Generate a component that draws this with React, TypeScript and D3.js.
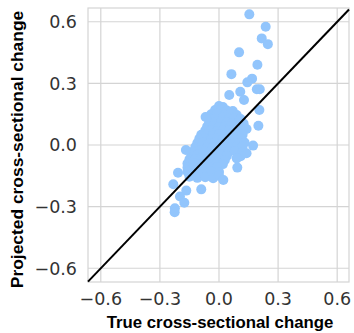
import * as d3 from "d3";

const tickValues = [-0.6, -0.3, 0.0, 0.3, 0.6];
const xTitle = "True cross-sectional change";
const yTitle = "Projected cross-sectional change";

// scattered points away from the core blob: [true, projected]
const outerPoints: [number, number][] = [
  [0.154, 0.636], [0.237, 0.576], [0.217, 0.519], [0.248, 0.491],
  [0.102, 0.451], [0.195, 0.391], [0.063, 0.345], [0.168, 0.323],
  [0.144, 0.305], [0.192, 0.271], [0.207, 0.271], [0.108, 0.259],
  [0.052, 0.243], [0.127, 0.219], [0.205, 0.17], [-0.068, 0.136],
  [0.2, 0.094], [0.173, -0.003], [0.09, -0.065], [0.093, -0.11],
  [-0.168, -0.024], [-0.208, -0.135], [-0.232, -0.191], [-0.166, -0.222],
  [-0.09, -0.216], [0.022, -0.17], [-0.198, -0.251], [-0.176, -0.281],
  [-0.224, -0.308], [-0.225, -0.327],
];

// dense core along the diagonal
const corePoints: [number, number][] = [
  [0.0, 0.19], [0.02, 0.185], [-0.02, 0.17], [0.01, 0.172], [0.04, 0.168], [0.07, 0.165],
  [-0.04, 0.15], [-0.01, 0.152], [0.03, 0.148], [0.06, 0.151], [0.09, 0.146],
  [-0.05, 0.13], [-0.02, 0.128], [0.02, 0.133], [0.05, 0.129], [0.08, 0.131], [0.11, 0.126],
  [-0.05, 0.11], [-0.02, 0.112], [0.01, 0.108], [0.04, 0.111], [0.07, 0.107], [0.1, 0.11], [0.125, 0.105],
  [-0.06, 0.09], [-0.03, 0.092], [0.0, 0.088], [0.03, 0.09], [0.06, 0.093], [0.09, 0.087], [0.12, 0.091],
  [-0.07, 0.07], [-0.04, 0.072], [-0.01, 0.068], [0.02, 0.071], [0.05, 0.069], [0.08, 0.073], [0.11, 0.067], [0.14, 0.078],
  [-0.09, 0.05], [-0.06, 0.052], [-0.03, 0.048], [0.0, 0.051], [0.03, 0.049], [0.06, 0.053], [0.09, 0.047], [0.12, 0.05],
  [-0.1, 0.03], [-0.07, 0.032], [-0.04, 0.028], [-0.01, 0.031], [0.02, 0.029], [0.05, 0.033], [0.08, 0.027], [0.11, 0.03],
  [-0.11, 0.01], [-0.08, 0.012], [-0.05, 0.008], [-0.02, 0.011], [0.01, 0.009], [0.04, 0.013], [0.07, 0.007], [0.1, 0.01], [0.13, 0.012],
  [-0.12, -0.01], [-0.09, -0.008], [-0.06, -0.012], [-0.03, -0.009], [0.0, -0.011], [0.03, -0.007], [0.06, -0.013], [0.09, -0.01], [0.12, -0.008],
  [-0.13, -0.03], [-0.1, -0.028], [-0.07, -0.032], [-0.04, -0.029], [-0.01, -0.031], [0.02, -0.027], [0.05, -0.033], [0.08, -0.03], [0.12, -0.035],
  [-0.14, -0.05], [-0.11, -0.048], [-0.08, -0.052], [-0.05, -0.049], [-0.02, -0.051], [0.01, -0.047], [0.04, -0.053], [0.14, -0.04], [0.11, -0.055],
  [-0.15, -0.07], [-0.12, -0.068], [-0.09, -0.072], [-0.06, -0.069], [-0.03, -0.071], [0.0, -0.067], [0.03, -0.073],
  [-0.16, -0.09], [-0.13, -0.088], [-0.1, -0.092], [-0.07, -0.089], [-0.04, -0.091], [-0.01, -0.087], [0.02, -0.093],
  [-0.16, -0.11], [-0.13, -0.108], [-0.1, -0.112], [-0.07, -0.109], [-0.04, -0.111], [-0.01, -0.107],
  [-0.16, -0.13], [-0.12, -0.128], [-0.08, -0.132], [-0.04, -0.129], [0.0, -0.131],
  [-0.15, -0.155], [-0.11, -0.16], [-0.07, -0.157], [-0.03, -0.162], [0.0, -0.15],
];

const points = [...corePoints, ...outerPoints];

const width = 354;
const height = 333;
const margin = { top: 8, right: 5, bottom: 51, left: 88 };

export default function App() {
  const x = d3
    .scaleLinear()
    .domain([-0.665, 0.66])
    .range([margin.left, width - margin.right]);
  const y = d3
    .scaleLinear()
    .domain([-0.667, 0.667])
    .range([height - margin.bottom, margin.top]);

  const [x0, x1] = x.range();
  const [y0, y1] = y.range();
  const fmt = d3.format(".1f");
  const tickLabel = (v: number) => fmt(v).replace("-", "\u2212");
  const lo = Math.max(x.domain()[0], y.domain()[0]);
  const hi = Math.min(x.domain()[1], y.domain()[1]);

  return (
    <svg
      width={width}
      height={height}
      style={{ position: "absolute", left: 0, top: 0, background: "#fff" }}
      fontFamily="DejaVu Sans"
    >
      <rect x={x0} y={y1} width={x1 - x0} height={y0 - y1} fill="#fff" stroke="#d4d4d4" strokeWidth={1.2} />
      {tickValues.map((t) => (
        <g key={`g${t}`}>
          <line x1={x(t)} x2={x(t)} y1={y1} y2={y0} stroke="#d4d4d4" strokeWidth={1.2} />
          <line x1={x0} x2={x1} y1={y(t)} y2={y(t)} stroke="#d4d4d4" strokeWidth={1.2} />
        </g>
      ))}
      {points.map(([px, py], i) => (
        <circle key={i} cx={x(px)} cy={y(py)} r={5} fill="#92c5fc" />
      ))}
      <line x1={x(lo)} y1={y(lo)} x2={x(hi)} y2={y(hi)} stroke="#000" strokeWidth={2} />
      {tickValues.map((t) => (
        <text
          key={`yt${t}`}
          x={x0 - 11}
          y={y(t)}
          dy="0.36em"
          textAnchor="end"
          fontSize={17.5}
          fill="#333"
        >
          {tickLabel(t)}
        </text>
      ))}
      {tickValues.map((t) => (
        <text
          key={`xt${t}`}
          x={x(t)}
          y={y0 + 23}
          textAnchor="middle"
          fontSize={17.5}
          fill="#333"
        >
          {tickLabel(t)}
        </text>
      ))}
      <text
        x={220}
        y={height - 5}
        textAnchor="middle"
        fontFamily="Liberation Sans"
        fontWeight="bold"
        fontSize={16.8}
        fill="#000"
      >
        {xTitle}
      </text>
      <text
        transform={`translate(23,149.5) rotate(-90)`}
        textAnchor="middle"
        fontFamily="Liberation Sans"
        fontWeight="bold"
        fontSize={17.4}
        fill="#000"
      >
        {yTitle}
      </text>
    </svg>
  );
}
